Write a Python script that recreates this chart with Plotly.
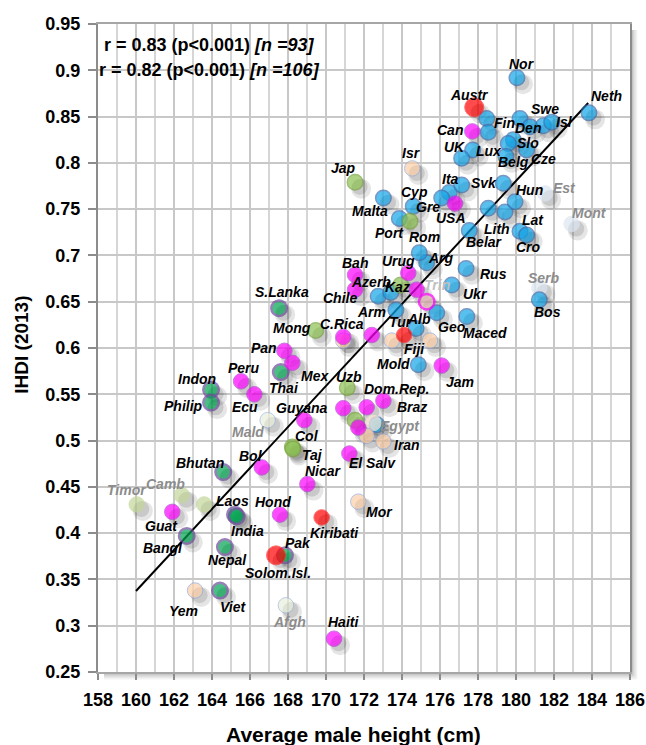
import plotly.graph_objects as go

# ---------------- data ----------------
COUNTRY = ["Nor", "Neth", "Austr", "", "Fin", "Den", "Swe", "Isl", "Can", "",
           "Slo", "", "Cze", "Lux", "UK", "Belg", "Ita", "", "Svk", "Gre",
           "Cyp", "USA", "Malta", "Port", "Rom", "Lith", "", "Hun", "Belar", "Est",
           "Mont", "Lat", "Cro", "Arg", "", "Rus", "Ukr", "Serb", "Bos", "Geo",
           "Maced", "Azerb", "", "Arm", "Alb", "Kaz", "Mold", "",
           "Bah", "Chile", "Urug", "", "Trin", "C.Rica", "", "Pan", "Mex", "Peru",
           "Ecu", "Guyana", "Bol", "Braz", "Dom.Rep.", "", "", "El Salv", "Nicar", "Hond",
           "Guat", "Jam", "Haiti",
           "S.Lanka", "Thai", "Indon", "Philip", "Bhutan", "Bangl", "Laos", "India", "Nepal",
           "Pak", "Viet",
           "Jap", "Mong", "Uzb", "Col", "Taj", "",
           "Tur", "Kiribati", "Solom.Isl.",
           "Isr", "", "Fiji", "", "Egypt", "", "Iran", "Mor", "Yem",
           "Mald", "Afgh", "Timor", "Camb", ""]
HEIGHT = [180.05, 183.84, 177.80, 178.46, 180.21, 180.74, 181.44, 181.88, 177.70, 178.54,
          179.86, 179.59, 180.56, 177.72, 177.14, 179.47, 176.49, 177.14, 179.33, 176.09,
          174.59, 176.79, 173.02, 173.86, 174.42, 179.42, 178.54, 179.95, 177.54, 181.53,
          182.93, 180.21, 180.56, 175.30, 174.91, 177.37, 176.62, 181.23, 181.23, 175.83,
          177.41, 172.75, 173.41, 173.68, 174.74, 173.93, 174.86, 172.68,
          171.53, 171.53, 174.33, 174.77, 175.30, 170.91, 172.41, 167.81, 168.23, 165.53,
          166.23, 168.86, 166.62, 173.02, 172.14, 170.91, 171.70, 171.23, 169.02, 167.58,
          161.91, 176.09, 170.42,
          167.53, 167.62, 163.95, 163.95, 164.59, 162.67, 165.21, 165.30, 164.68,
          167.84, 164.42,
          171.53, 169.46, 171.12, 168.23, 168.26, 171.53,
          174.11, 169.77, 167.37,
          174.54, 173.46, 175.47, 170.91, 172.49, 172.14, 173.02, 171.70, 163.11,
          166.93, 167.89, 160.04, 162.41, 163.59]
IHDI = [0.892, 0.854, 0.860, 0.848, 0.848, 0.839, 0.840, 0.844, 0.834, 0.833,
        0.825, 0.821, 0.814, 0.814, 0.805, 0.807, 0.768, 0.776, 0.778, 0.762,
        0.753, 0.756, 0.762, 0.740, 0.737, 0.747, 0.751, 0.758, 0.727, 0.767,
        0.734, 0.726, 0.722, 0.692, 0.703, 0.686, 0.668, 0.665, 0.652, 0.638,
        0.634, 0.656, 0.660, 0.641, 0.621, 0.668, 0.582, 0.517,
        0.679, 0.663, 0.681, 0.663, 0.650, 0.612, 0.614, 0.597, 0.584, 0.564,
        0.550, 0.522, 0.471, 0.543, 0.536, 0.535, 0.514, 0.486, 0.453, 0.420,
        0.423, 0.581, 0.286,
        0.643, 0.574, 0.555, 0.541, 0.466, 0.397, 0.420, 0.418, 0.385,
        0.376, 0.338,
        0.779, 0.619, 0.557, 0.493, 0.491, 0.522,
        0.614, 0.417, 0.376,
        0.794, 0.608, 0.608, 0.608, 0.519, 0.505, 0.499, 0.434, 0.338,
        0.522, 0.322, 0.431, 0.441, 0.431]
GROUP = (["blue"] * 29 + ["paleblue"] + ["paleblue"] + ["blue"] * 6 + ["paleblue"] + ["blue"] * 10
         + ["magenta"] * 4 + ["trin"] + ["magenta"] * 18
         + ["dkgreen"] * 11
         + ["ltgreen"] * 6
         + ["red"] * 3
         + ["peach"] * 4 + ["palepeach"] + ["peach"] * 4
         + ["palegreen"] * 2 + ["olive"] * 3)
# groups of a few points drawn among the others
GROUP[2] = "red"      # Austr
GROUP[8] = "magenta"  # Can
GROUP[21] = "magenta" # USA
GROUP[24] = "ltgreen" # Rom
GROUP[45] = "ltgreen" # Kaz

REG_X = [160.0, 183.8]
REG_Y = [0.3375, 0.8647]

STATS = ["r = 0.83 (p<0.001) <i>[n =93]</i>", "r = 0.82 (p<0.001) <i>[n =106]</i>"]
X_TITLE = "Average male height (cm)"
Y_TITLE = "IHDI (2013)"

# ---------------- styles ----------------
STYLE = {
    "paleblue": ("#DCE6F2", "#DCE6F2", 1),
    "palegreen": ("#EBF0DE", "#9DB6DB", 1),
    "olive": ("#C4D79B", "#C4D79B", 1),
    "blue": ("#12A6E8", "#3C6DAD", 1.5),
    "palepeach": ("#FDE9D9", "#FDE9D9", 1),
    "peach": ("#FBCFA8", "#8FAADC", 1),
    "ltgreen": ("#8CC152", "#77A33D", 1.5),
    "dkgreen": ("#00A550", "#6B4C9A", 2.5),
    "magenta": ("#FF00FF", "#B040D0", 1),
    "trin": ("#E6B8B7", "#FF00FF", 2.5),
    "red": ("#FF0000", "#FF3030", 1),
}
ORDER = ["paleblue", "palegreen", "olive", "blue", "palepeach", "peach",
         "ltgreen", "dkgreen", "magenta", "trin", "red"]
BIG = {"Austr", "Solom.Isl."}
GRAY_LABEL = {"Est": "#8C8C8C", "Mont": "#8C8C8C", "Serb": "#8C8C8C", "Mald": "#8C8C8C",
              "Afgh": "#8C8C8C", "Timor": "#8C8C8C", "Camb": "#8C8C8C", "Egypt": "#8C8C8C",
              "Trin": "#BFBFBF"}
# label offsets in pixels (dx right, dy down) from the marker centre
LABEL_OFFSET = {
    "Nor": (5, -14), "Neth": (18, -17), "Austr": (-5, -12), "Fin": (-15, 5),
    "Swe": (2, -17), "Isl": (13, 0), "Den": (-2, 1), "Slo": (15, 3), "Cze": (17, 9),
    "Lux": (16, 1), "UK": (-7, -11), "Can": (-22, -1), "Belg": (8, 6),
    "Ita": (1, -13), "Svk": (-19, 0), "Gre": (-14, 9), "Cyp": (1, -14), "USA": (-4, 14),
    "Malta": (-13, 13), "Port": (-10, 15), "Rom": (15, 16), "Lith": (-8, 17),
    "Hun": (14, -12), "Belar": (15, 12), "Est": (19, -5), "Mont": (18, -11),
    "Lat": (13, -11), "Cro": (2, 12), "Arg": (14, -5), "Rus": (27, 6), "Ukr": (24, 9),
    "Serb": (5, -10), "Bos": (8, 12), "Geo": (15, 14), "Maced": (18, 16),
    "Azerb": (-7, -14), "Arm": (-24, 2), "Alb": (3, -10), "Kaz": (-3, 2), "Mold": (-25, -1),
    "Bah": (0, -12), "Chile": (-15, 8), "Urug": (-10, -12), "Trin": (10, -17),
    "C.Rica": (-1, -13), "Pan": (-20, -3), "Mex": (23, 13), "Peru": (3, -13),
    "Ecu": (-9, 13), "Guyana": (-2, -12), "Bol": (-11, -11), "Braz": (29, 6),
    "Dom.Rep.": (30, -18), "El Salv": (23, 9), "Nicar": (16, -13), "Hond": (-7, -13),
    "Guat": (-11, 14), "Jam": (18, 16), "Haiti": (10, -17),
    "S.Lanka": (3, -16), "Thai": (3, 16), "Indon": (-14, -11), "Philip": (-28, 3),
    "Bhutan": (-23, -9), "Bangl": (-24, 12), "Laos": (-2, -14), "India": (11, 15),
    "Nepal": (3, 13), "Pak": (13, -12), "Viet": (13, 16),
    "Jap": (-12, -14), "Mong": (-24, -2), "Uzb": (2, -11), "Col": (15, -11), "Taj": (20, 6),
    "Tur": (-3, -13), "Kiribati": (13, 16), "Solom.Isl.": (2, 18),
    "Isr": (-1, -15), "Fiji": (-15, 8), "Egypt": (27, 3), "Iran": (24, 3), "Mor": (21, 10),
    "Yem": (-12, 20), "Mald": (-20, 12), "Afgh": (4, 17), "Timor": (-10, -14), "Camb": (-16, -11),
}

FONT = "Liberation Sans, Arial, sans-serif"

fig = go.Figure()

# regression line
fig.add_trace(go.Scatter(x=REG_X, y=REG_Y, mode="lines",
                         line=dict(color="black", width=2), hoverinfo="skip", showlegend=False))

# drop shadows (derived from the data points)
fig.add_trace(go.Scatter(
    x=[h + 0.32 for h in HEIGHT], y=[v - 0.007 for v in IHDI], mode="markers",
    marker=dict(size=20, color="rgba(0,0,0,0.10)", line=dict(width=0)),
    hoverinfo="skip", showlegend=False))
fig.add_trace(go.Scatter(
    x=[h + 0.24 for h in HEIGHT], y=[v - 0.005 for v in IHDI], mode="markers",
    marker=dict(size=16, color="rgba(0,0,0,0.12)", line=dict(width=0)),
    hoverinfo="skip", showlegend=False))

for g in ORDER:
    idx = [i for i, gg in enumerate(GROUP) if gg == g]
    if not idx:
        continue
    fill, edge, w = STYLE[g]
    fig.add_trace(go.Scatter(
        x=[HEIGHT[i] for i in idx], y=[IHDI[i] for i in idx], mode="markers",
        text=[COUNTRY[i] for i in idx], hoverinfo="text",
        marker=dict(size=[19 if COUNTRY[i] in BIG else 15.5 for i in idx],
                    color=fill, line=dict(color=edge, width=w)),
        showlegend=False))

annotations = []
for c, h, v in zip(COUNTRY, HEIGHT, IHDI):
    if not c or c not in LABEL_OFFSET:
        continue
    dx, dy = LABEL_OFFSET[c]
    annotations.append(dict(
        x=h, y=v, xref="x", yref="y", text=c, showarrow=False,
        xanchor="center", yanchor="middle",
        xshift=dx, yshift=-dy,
        font=dict(family=FONT, size=14, color=GRAY_LABEL.get(c, "black"),
                  weight="bold", style="italic")))

for k, s in enumerate(STATS):
    annotations.append(dict(
        x=0.2105, y=0.9676 - 0.0386 * k, xref="paper", yref="paper", text=s,
        xanchor="center", yanchor="middle",
        showarrow=False, font=dict(family=FONT, size=18, color="black", weight="bold")))

# axis titles
annotations.append(dict(x=0.481, y=-0.097, xref="paper", yref="paper", text=X_TITLE,
                        showarrow=False, xanchor="center", yanchor="middle",
                        font=dict(family=FONT, size=21, color="black", weight="bold")))
annotations.append(dict(x=-0.143, y=0.505, xref="paper", yref="paper", text=Y_TITLE,
                        showarrow=False, xanchor="center", yanchor="middle", textangle=-90,
                        font=dict(family=FONT, size=19, color="black", weight="bold")))

shapes = []
# plot-area drop shadow on right and bottom
for k, op in enumerate([0.22, 0.15, 0.09, 0.05]):
    px = (k + 1) * 1.6
    shapes.append(dict(type="line", xref="paper", yref="paper",
                       x0=1 + px / 532, x1=1 + px / 532, y0=-px / 648, y1=1 - 6 / 648,
                       line=dict(color=f"rgba(0,0,0,{op})", width=2), layer="below"))
    shapes.append(dict(type="line", xref="paper", yref="paper",
                       x0=6 / 532, x1=1 + px / 532, y0=-px / 648, y1=-px / 648,
                       line=dict(color=f"rgba(0,0,0,{op})", width=2), layer="below"))

fig.update_layout(
    width=646, height=745,
    margin=dict(l=98, r=16, t=24, b=73),
    paper_bgcolor="white", plot_bgcolor="white",
    annotations=annotations, shapes=shapes,
    font=dict(family=FONT, color="black"),
    hovermode="closest",
)
fig.update_xaxes(
    range=[158, 186], dtick=2, tick0=158, automargin=False,
    showgrid=True, gridcolor="#C8C8C8", gridwidth=2,
    minor=dict(dtick=1, showgrid=True, gridcolor="#D6D6D6", gridwidth=1.5),
    showline=True, linecolor="#A6A6A6", linewidth=2, mirror=True,
    ticks="outside", ticklen=6, tickcolor="#8C8C8C", tickwidth=2,
    ticklabelstandoff=4,
    tickfont=dict(family=FONT, size=18, color="black", weight="bold"),
    zeroline=False,
)
fig.update_yaxes(
    range=[0.25, 0.95], dtick=0.05, tick0=0.25, automargin=False,
    showgrid=True, gridcolor="#C8C8C8", gridwidth=2,
    showline=True, linecolor="#8C8C8C", linewidth=2, mirror=True,
    ticks="outside", ticklen=8, tickcolor="#8C8C8C", tickwidth=2,
    ticklabelstandoff=4,
    tickfont=dict(family=FONT, size=18, color="black", weight="bold"),
    zeroline=False,
)

fig.write_html("out.html")
